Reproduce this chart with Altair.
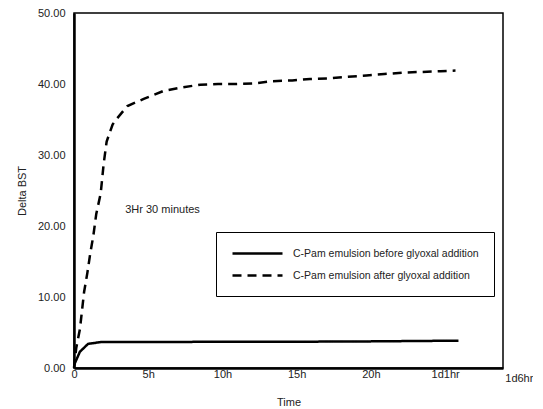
import altair as alt
import pandas as pd

# Series names
series_names = ["C-Pam emulsion before glyoxal addition",
                "C-Pam emulsion after glyoxal addition"]

# Before glyoxal (hours, delta BST)
before_hours = [0.0, 0.4, 0.95, 1.8, 5.0, 10.0, 15.0, 20.0, 25.9]
before_vals = [0.4, 2.3, 3.4, 3.65, 3.65, 3.7, 3.7, 3.75, 3.85]

# After glyoxal (hours, delta BST)
after_hours = [0.0, 0.15, 0.4, 0.68, 0.9, 1.1, 1.3, 1.5, 1.8, 2.0, 2.2, 2.6, 2.8,
               3.6, 4.7, 6.0, 7.2, 8.5, 9.7, 10.9, 12.2, 13.4, 14.7, 15.9, 17.2,
               18.4, 19.7, 20.9, 22.1, 23.4, 24.7, 25.7]
after_vals = [0.0, 2.8, 5.5, 10.7, 13.4, 16.2, 18.6, 21.7, 24.6, 28.8, 31.9, 34.3, 34.9,
              36.9, 37.9, 39.0, 39.5, 39.9, 40.0, 40.0, 40.1, 40.4, 40.5, 40.7, 40.8,
              41.0, 41.2, 41.4, 41.6, 41.7, 41.8, 41.9]

# Axis ticks
x_ticks = [0, 5, 10, 15, 20, 25]
y_ticks = [0, 10, 20, 30, 40, 50]
# Tick label beyond the plotted range
extra_tick_hours = [30]
extra_tick_labels = ["1d6hr"]

# Annotation
note_x = [3.45]
note_y = [22.3]
note_text = ["3Hr 30 minutes"]

rows = []
for h, v in zip(before_hours, before_vals):
    rows.append({"hours": h, "value": v, "series": series_names[0]})
for h, v in zip(after_hours, after_vals):
    rows.append({"hours": h, "value": v, "series": series_names[1]})
df = pd.DataFrame(rows)

note_df = pd.DataFrame({"hours": note_x, "value": note_y, "text": note_text})
extra_df = pd.DataFrame({"hours": extra_tick_hours, "text": extra_tick_labels})

FONT = "Liberation Sans"
TXT = "#222222"
W, H = 429, 355

x_scale = alt.Scale(domain=[0, 28.9], nice=False, zero=False)

x_enc = alt.X("hours:Q", scale=x_scale,
              axis=alt.Axis(title="Time", values=x_ticks, ticks=False, grid=False,
                            labelExpr="datum.value == 0 ? '0' : datum.value == 25 ? '1d1hr' : datum.value + 'h'",
                            labelPadding=0, titlePadding=17,
                            domainWidth=2.5, domainColor="black",
                            labelFontSize=11, titleFontSize=11,
                            labelFont=FONT, titleFont=FONT,
                            labelColor=TXT, titleColor=TXT,
                            titleFontWeight="normal", labelFlush=False, labelOverlap=False))
y_enc = alt.Y("value:Q",
              scale=alt.Scale(domain=[0, 50], nice=False),
              axis=alt.Axis(title="Delta BST", values=y_ticks, format=".2f", ticks=False, grid=False,
                            labelPadding=9, titlePadding=10,
                            domainWidth=2.5, domainColor="black",
                            labelFontSize=11, titleFontSize=11,
                            labelFont=FONT, titleFont=FONT,
                            labelColor=TXT, titleColor=TXT,
                            titleFontWeight="normal", labelFlush=False, labelOverlap=False))

lines = alt.Chart(df).mark_line(strokeWidth=2.5, color="black").encode(
    x=x_enc,
    y=y_enc,
    strokeDash=alt.StrokeDash("series:N",
                              scale=alt.Scale(domain=series_names, range=[[1, 0], [9, 6]]),
                              legend=alt.Legend(title=None, orient="none",
                                                legendX=142, legendY=219,
                                                strokeColor="black", fillColor="white",
                                                padding=15, rowPadding=10,
                                                symbolType="M-1,0H9", symbolSize=100,
                                                symbolStrokeWidth=2.5, symbolStrokeColor="black",
                                                labelFont=FONT, labelFontSize=10.5,
                                                labelColor=TXT, labelOffset=49,
                                                labelLimit=300)),
    order="hours:Q",
)

note = alt.Chart(note_df).mark_text(align="left", baseline="middle", font=FONT,
                                    fontSize=11, color=TXT).encode(
    x=alt.X("hours:Q", scale=x_scale), y="value:Q", text="text:N")

extra = alt.Chart(extra_df).mark_text(align="center", baseline="top", font=FONT,
                                      fontSize=11, color=TXT).encode(
    x=alt.X("hours:Q", scale=x_scale), y=alt.value(H + 5), text="text:N")

chart = alt.layer(lines, note, extra).properties(
    width=W, height=H,
    autosize=alt.AutoSizeParams(type="none"),
    padding={"top": 5, "left": 66, "right": 30, "bottom": 40},
).configure_view(stroke="black", strokeWidth=1.5)

chart.save("out.html", embed_options={"renderer": "svg", "actions": False})
